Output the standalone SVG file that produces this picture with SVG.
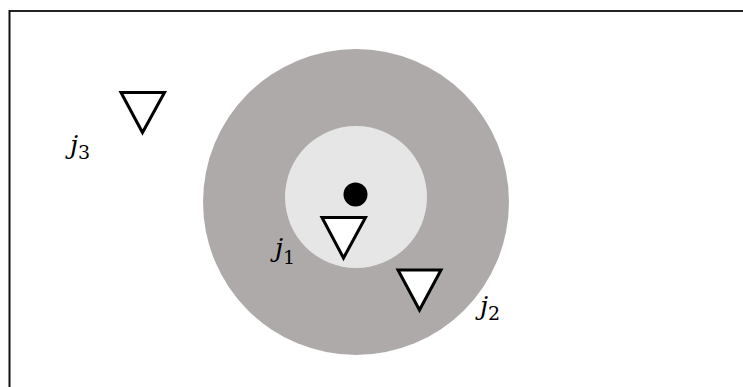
<svg xmlns="http://www.w3.org/2000/svg" width="743" height="387" viewBox="0 0 743 387">
<style>
.tri{fill:#fff;stroke:#000;stroke-width:3;stroke-linejoin:miter}
.lbl{font-family:"DejaVu Serif",serif;font-size:26px;fill:#000}
.j{font-style:italic}
.sub{font-size:19px}
</style>
<rect width="743" height="387" fill="#fff"/>
<g id="frame">
<line x1="9.5" y1="11" x2="743" y2="11" stroke="#222" stroke-width="2"/>
<line x1="9.5" y1="10" x2="9.5" y2="387" stroke="#111" stroke-width="2"/>
</g>
<g id="outer-zone"><circle cx="356" cy="202" r="153" fill="#aeaaaa"/></g>
<g id="inner-zone"><circle cx="356" cy="197" r="71" fill="#e7e6e6"/></g>
<g id="center"><circle cx="355.5" cy="194.5" r="12" fill="#000"/></g>
<g id="node-j1">
<polygon class="tri" points="322,217.5 365.5,217.5 343.5,258"/>
<text class="lbl" x="275" y="257"><tspan class="j">j</tspan><tspan class="sub" dy="7">1</tspan></text>
</g>
<g id="node-j2">
<polygon class="tri" points="398,270 441,270 419.5,310"/>
<text class="lbl" x="480" y="315"><tspan class="j">j</tspan><tspan class="sub" dy="5">2</tspan></text>
</g>
<g id="node-j3">
<polygon class="tri" points="121,92.5 164.5,92.5 142.5,132.5"/>
<text class="lbl" x="70" y="154"><tspan class="j">j</tspan><tspan class="sub" dy="5">3</tspan></text>
</g>
<g id="connectors"/>
</svg>
